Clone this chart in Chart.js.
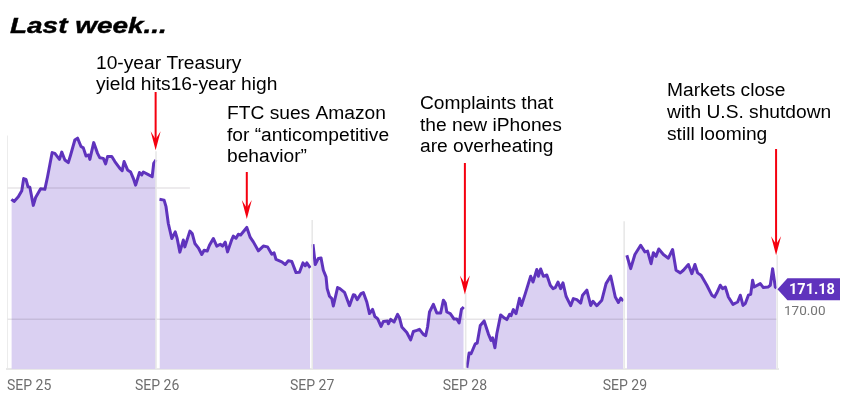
<!DOCTYPE html>
<html>
<head>
<meta charset="utf-8">
<style>body{margin:0;background:#fff}</style>
<script src="https://cdn.jsdelivr.net/npm/chart.js@4/dist/chart.umd.js"></script>
</head>
<body>
<canvas id="stockChart" width="842" height="400"></canvas>
<script type="text/javascript">
// x = trading minutes since the open on Sep 25, y = share price
var days = [
  [[1,174.57],[8,174.49],[19,174.67],[28,174.90],[33,175.36],[39,175.33],[44,175.05],[49,175.03],[58,174.34],[64,174.64],[77,174.97],[88,174.95],[95,175.43],[107,176.35],[114,176.32],[126,176.09],[132,176.37],[140,176.07],[149,175.97],[155,176.26],[166,176.83],[173,176.90],[182,176.58],[188,176.53],[195,176.22],[202,176.26],[205,176.09],[215,176.73],[225,176.32],[231,176.15],[240,176.13],[246,175.92],[251,176.20],[262,176.20],[270,176.01],[283,175.75],[289,175.66],[294,176.01],[303,175.69],[311,175.61],[318,175.37],[324,175.11],[334,175.59],[340,175.50],[344,175.61],[357,175.51],[367,175.43],[371,175.94],[377,176.07]],
  [[386,174.57],[398,174.54],[403,174.29],[409,173.65],[418,173.08],[427,173.33],[432,173.08],[439,172.56],[448,173.02],[452,172.76],[465,173.36],[471,173.27],[478,172.89],[488,172.70],[496,172.47],[502,172.63],[510,172.60],[516,172.82],[526,173.08],[535,172.79],[544,172.86],[550,172.79],[557,172.94],[563,172.57],[574,173.04],[578,173.17],[585,173.09],[591,173.24],[597,173.21],[613,173.50],[622,173.12],[630,172.95],[643,172.61],[656,172.79],[667,172.76],[678,172.48],[684,172.53],[689,172.28],[704,172.19],[713,172.09],[721,172.23],[730,172.20],[741,171.78],[750,171.79],[759,172.15],[765,172.04],[769,172.15],[778,171.96]],
  [[785,172.86],[791,172.09],[799,172.32],[806,172.34],[812,171.87],[819,171.62],[822,171.17],[828,170.88],[834,170.79],[838,170.51],[849,171.21],[855,171.17],[867,171.03],[880,170.52],[890,170.94],[894,170.92],[900,170.75],[910,170.98],[916,171.02],[925,170.66],[932,170.22],[940,170.38],[946,170.11],[953,170.03],[962,169.73],[968,169.92],[979,169.94],[981,169.83],[987,170.00],[996,169.90],[1005,170.19],[1010,170.06],[1016,169.71],[1029,169.50],[1039,169.22],[1046,169.54],[1055,169.58],[1062,169.62],[1072,169.43],[1078,169.38],[1083,169.71],[1088,170.28],[1098,170.57],[1107,170.24],[1117,170.24],[1124,170.73],[1129,170.62],[1133,170.28],[1142,170.22],[1152,170.01],[1159,170.01],[1165,169.86],[1171,170.38],[1177,170.47]],
  [[1185,168.16],[1191,168.72],[1196,168.69],[1207,169.07],[1212,169.10],[1220,169.77],[1230,169.94],[1241,169.45],[1248,169.20],[1252,169.30],[1258,168.92],[1263,169.45],[1273,170.17],[1282,170.06],[1289,169.99],[1296,170.19],[1300,170.14],[1306,170.37],[1313,170.22],[1322,170.80],[1327,170.53],[1337,170.98],[1345,171.36],[1351,171.64],[1357,171.42],[1367,171.90],[1371,171.64],[1377,171.92],[1384,171.64],[1393,171.69],[1402,171.30],[1409,171.17],[1415,171.21],[1422,171.42],[1429,171.17],[1435,171.39],[1443,170.88],[1455,170.52],[1462,170.79],[1471,170.75],[1481,170.62],[1486,170.92],[1497,171.11],[1507,170.53],[1513,170.69],[1523,170.52],[1536,170.73],[1547,171.36],[1559,171.65],[1571,170.85],[1579,170.64],[1585,170.81],[1592,170.70]],
  [[1601,172.44],[1611,171.93],[1622,172.47],[1637,172.82],[1648,172.57],[1655,172.60],[1664,172.12],[1670,172.54],[1677,172.40],[1684,172.68],[1696,172.47],[1709,172.33],[1720,172.66],[1729,171.87],[1740,171.77],[1748,171.87],[1761,172.09],[1770,171.74],[1778,172.09],[1785,171.77],[1794,171.68],[1809,171.30],[1822,170.92],[1829,170.85],[1835,171.01],[1844,171.30],[1850,171.17],[1857,171.23],[1865,170.85],[1877,170.57],[1889,170.66],[1896,170.92],[1903,170.53],[1909,170.60],[1917,170.92],[1923,170.95],[1928,171.49],[1932,171.23],[1948,171.36],[1956,171.21],[1968,171.23],[1974,171.30],[1980,171.93],[1987,171.23],[1990,171.18]]
];

var yMin = 168.11, yMax = 177.21, xMin = -10.4, xMax = 1994;

// day ticks on the bottom axis
var dayTicks = [
  {value: xMin, label: 'SEP 25'},
  {value: 380, label: 'SEP 26'},
  {value: 783, label: 'SEP 27'},
  {value: 1180, label: 'SEP 28'},
  {value: 1596, label: 'SEP 29'},
  {value: xMax, label: ''}
];

// vertical day separators, as far up as each one reaches
var separators = [[xMin,177.0],[377,176.4],[783,173.78],[1182,171.0],[1594,173.74],[1992,172.44]];

// horizontal price lines
var priceLines = [[175,xMin,465],[170,xMin,xMax]];

var datasets = [];
separators.forEach(function(s) {
  datasets.push({
    data: [{x: s[0], y: yMin}, {x: s[0], y: s[1]}],
    borderColor: '#e8e8e8',
    borderWidth: 1.6,
    pointRadius: 0,
    fill: false
  });
});
priceLines.forEach(function(l) {
  datasets.push({
    data: [{x: l[1], y: l[0]}, {x: l[2], y: l[0]}],
    borderColor: 'rgba(60,50,70,0.13)',
    borderWidth: 1.5,
    pointRadius: 0,
    fill: false
  });
});
days.forEach(function(d) {
  datasets.push({
    data: d.map(function(p) { return {x: p[0], y: p[1]}; }),
    borderColor: '#5f33bd',
    backgroundColor: '#dad0f2',
    borderWidth: 3,
    borderJoinStyle: 'round',
    fill: 'start',
    tension: 0,
    pointRadius: 0
  });
});

// notes over the chart
var notes = [
  {x: 96, y: 69, lines: ['10-year Treasury', 'yield hits16-year high'], lh: 20.5},
  {x: 227, y: 119, lines: ['FTC sues Amazon', 'for \u201canticompetitive', 'behavior\u201d'], lh: 21.5},
  {x: 420, y: 109, lines: ['Complaints that', 'the new iPhones', 'are overheating'], lh: 21.5},
  {x: 667, y: 96, lines: ['Markets close', 'with U.S. shutdown', 'still looming'], lh: 22}
];

// arrows: minute and price of the tip, pixel where the tail starts
var arrows = [
  {m: 376, p: 176.44, top: 92},
  {m: 613, p: 173.82, top: 172},
  {m: 1180, p: 170.95, top: 163},
  {m: 1989, p: 172.44, top: 149}
];

var annotations = {
  id: 'annotations',
  afterDraw: function(chart) {
    var ctx = chart.ctx, xs = chart.scales.x, ys = chart.scales.y;
    ctx.save();

    ctx.fillStyle = '#000';
    ctx.strokeStyle = '#000';
    ctx.textAlign = 'left';
    ctx.textBaseline = 'alphabetic';

    // title is a wide heavy oblique, so stretch it
    ctx.save();
    ctx.translate(10, 33);
    ctx.scale(1.27, 1);
    ctx.font = 'italic bold 22px "Liberation Sans"';
    ctx.lineWidth = 0.4;
    ctx.fillText('Last week...', 0, 0);
    ctx.strokeText('Last week...', 0, 0);
    ctx.restore();

    ctx.font = '19.2px "Liberation Sans"';
    notes.forEach(function(n) {
      n.lines.forEach(function(t, i) {
        ctx.fillText(t, n.x, n.y + i * n.lh);
      });
    });

    arrows.forEach(function(a) {
      var x = xs.getPixelForValue(a.m), tip = ys.getPixelForValue(a.p);
      ctx.fillStyle = '#f5000f';
      ctx.fillRect(x - 1, a.top, 2, tip - a.top - 8);
      ctx.beginPath();
      ctx.moveTo(x, tip);
      ctx.lineTo(x - 5, tip - 19);
      ctx.lineTo(x, tip - 11);
      ctx.lineTo(x + 5, tip - 19);
      ctx.closePath();
      ctx.fill();
    });

    // last price tag
    var last = days[4][days[4].length - 1];
    var lx = xs.getPixelForValue(last[0]) + 1, ly = ys.getPixelForValue(last[1]) + 1;
    ctx.fillStyle = '#5f33bd';
    ctx.beginPath();
    ctx.moveTo(lx, ly);
    ctx.lineTo(lx + 10, ly - 11);
    ctx.lineTo(840, ly - 11);
    ctx.lineTo(840, ly + 11);
    ctx.lineTo(lx + 10, ly + 11);
    ctx.closePath();
    ctx.fill();
    ctx.fillStyle = '#fff';
    ctx.font = 'bold 14.5px Roboto';
    ctx.textBaseline = 'middle';
    ctx.fillText(last[1].toFixed(2), 789, ly + 1);

    ctx.fillStyle = '#757575';
    ctx.font = '13.5px Roboto';
    ctx.fillText('170.00', 784, ys.getPixelForValue(170) - 7.5);
    ctx.restore();
  }
};

new Chart(document.getElementById('stockChart').getContext('2d'), {
  type: 'line',
  data: {datasets: datasets},
  plugins: [annotations],
  options: {
    responsive: false,
    animation: false,
    layout: {autoPadding: false, padding: {left: 7, right: 64, top: 130, bottom: 0}},
    plugins: {legend: {display: false}, tooltip: {enabled: false}},
    scales: {
      x: {
        type: 'linear',
        min: xMin,
        max: xMax,
        // tick padding also pads the scale sideways, so the gap comes from tickLength
        grid: {display: false, drawTicks: true, tickLength: 8},
        border: {display: true, color: '#e8e8e8', width: 2},
        afterBuildTicks: function(axis) {
          axis.ticks = dayTicks.map(function(t) { return {value: t.value}; });
        },
        afterFit: function(axis) { axis.height = 31; },
        ticks: {
          autoSkip: false,
          maxRotation: 0,
          align: 'inner',
          padding: 1,
          color: '#6e6e6e',
          font: {family: 'Roboto', size: 14},
          callback: function(value) {
            var t = dayTicks.find(function(d) { return d.value === value; });
            return t ? t.label : '';
          }
        }
      },
      y: {display: false, min: yMin, max: yMax}
    }
  }
});
</script>
</body>
</html>
